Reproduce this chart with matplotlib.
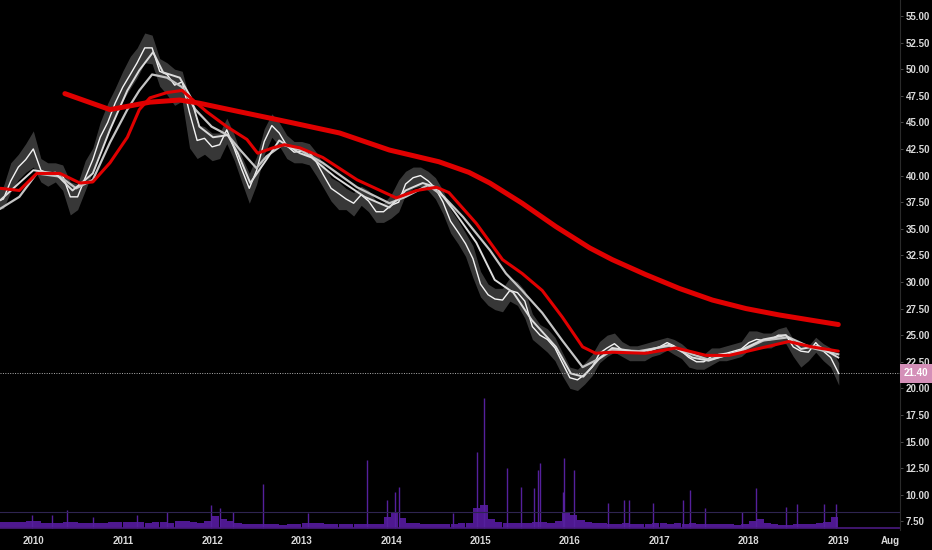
import numpy as np
import pandas as pd
import matplotlib
matplotlib.use("Agg")
import matplotlib.pyplot as plt
import matplotlib.transforms as mtrans

plt.rcParams['font.family'] = ['Liberation Sans', 'DejaVu Sans']

# monthly price (Aug 2009 .. Dec 2018, then last bar)
months = list(pd.date_range("2009-08-01", "2018-12-01", freq="MS").strftime("%Y-%m-%d")) + ["2019-01-03"]
close = [37.5, 37.8, 39.5, 40.8, 41.5,
         42.5, 40.5, 40.2, 40.3, 40.0, 38.0, 38.0, 39.8, 41.5, 43.6, 45.0, 46.8,
         48.3, 49.5, 50.6, 52.0, 52.0, 49.8, 49.5, 48.5, 48.8, 45.9, 43.3, 43.5,
         42.7, 42.9, 44.3, 42.5, 40.6, 38.8, 40.5, 43.2, 44.7, 44.0, 42.8, 42.2,
         42.3, 42.2, 41.3, 40.0, 38.8, 38.3, 37.8, 37.4, 38.2, 37.6, 36.6, 36.6,
         37.2, 37.5, 39.2, 39.8, 40.0, 39.5, 38.8, 37.5, 35.7, 34.7, 33.6, 32.2,
         29.8, 28.8, 28.4, 28.3, 29.2, 29.0, 28.2, 25.8, 25.0, 24.6, 23.8, 22.4,
         21.0, 20.8, 21.3, 22.0, 23.3, 23.8, 24.2, 23.6, 23.4, 23.3, 23.3, 23.6,
         23.9, 24.3, 24.0, 23.5, 22.9, 22.5, 22.5, 23.0, 23.2, 23.3, 23.5, 23.7,
         24.3, 24.6, 24.5, 24.6, 25.0, 25.0, 23.9, 23.5, 23.4, 24.3, 23.5, 22.9,
         21.4]
high = [38.6, 39.0, 41.2, 42.0, 43.0,
        44.2, 41.6, 41.2, 41.2, 41.0, 39.4, 39.2, 41.4, 42.6, 45.0, 46.8, 48.2,
        49.8, 51.2, 52.0, 53.4, 53.2, 51.0, 50.6, 50.0, 49.8, 47.2, 44.8, 44.6,
        44.0, 44.0, 45.4, 43.8, 41.8, 40.2, 41.8, 44.4, 45.8, 45.0, 43.8, 43.2,
        43.2, 43.0, 42.2, 41.0, 39.8, 39.4, 38.8, 38.4, 39.0, 38.6, 37.6, 37.4,
        38.2, 39.6, 40.4, 40.8, 40.8, 40.4, 39.8, 38.6, 36.8, 35.8, 34.6, 33.4,
        31.0, 29.8, 29.4, 29.4, 30.4, 30.0, 29.2, 27.0, 26.0, 25.6, 24.8, 23.4,
        22.0, 21.8, 22.4, 23.2, 24.4, 25.0, 25.2, 24.4, 24.0, 24.0, 24.2, 24.4,
        24.6, 24.8, 24.6, 24.2, 23.6, 23.2, 23.2, 23.8, 23.8, 24.0, 24.2, 24.4,
        25.4, 25.4, 25.2, 25.2, 25.6, 25.8, 24.6, 24.2, 24.0, 24.8, 24.2, 23.8,
        22.4]
low = [36.8, 36.9, 38.5, 39.6, 40.3,
       40.8, 39.4, 39.0, 39.4, 38.6, 36.3, 36.8, 38.6, 40.4, 42.4, 43.8, 45.6,
       47.0, 48.2, 49.2, 50.6, 50.5, 48.4, 47.6, 46.6, 47.0, 42.6, 41.6, 42.0,
       41.4, 41.6, 43.0, 41.4, 39.4, 37.4, 39.2, 42.0, 43.6, 42.8, 41.6, 41.2,
       41.2, 41.0, 40.0, 38.8, 37.6, 36.8, 36.8, 36.2, 37.2, 36.6, 35.6, 35.6,
       36.0, 36.6, 38.2, 38.8, 39.0, 38.6, 37.8, 36.4, 34.6, 33.6, 32.4, 30.4,
       28.6, 27.8, 27.4, 27.2, 28.2, 27.8, 26.6, 24.6, 24.0, 23.4, 22.6, 21.2,
       20.0, 19.8, 20.4, 21.2, 22.4, 23.0, 23.4, 23.0, 22.6, 22.6, 22.6, 23.0,
       23.2, 23.6, 23.2, 22.8, 22.0, 21.8, 21.8, 22.2, 22.6, 22.6, 22.8, 23.0,
       23.6, 23.8, 23.8, 23.8, 24.2, 24.2, 23.0, 22.0, 22.6, 23.4, 22.6, 22.0,
       20.3]
last_price = 21.40

# moving averages, read at points along each line
ma_fast_dates = ["2009-08-20", "2010-01-01", "2010-04-01", "2010-06-10", "2010-09-01", "2010-11-10",
                 "2011-01-20", "2011-03-10", "2011-05-05", "2011-06-15", "2011-08-22", "2011-10-05",
                 "2011-11-10", "2012-01-05", "2012-03-05", "2012-04-15", "2012-06-05", "2012-08-10",
                 "2012-10-01", "2012-12-25", "2013-02-10", "2013-05-15", "2013-09-15", "2013-12-25",
                 "2014-03-01", "2014-05-10", "2014-07-05", "2014-09-20", "2014-12-15", "2015-02-28",
                 "2015-05-15", "2015-07-30", "2015-11-05", "2016-01-05", "2016-02-25", "2016-04-30",
                 "2016-06-22", "2016-10-10", "2017-02-10", "2017-05-15", "2017-07-20", "2017-11-20",
                 "2018-03-01", "2018-06-01", "2018-08-01", "2018-10-10", "2019-01-01"]
ma_fast = [37.7, 40.5, 40.2, 38.6, 40.2, 44.3, 48.0, 49.9, 51.6, 49.7, 49.2, 47.4,
           44.6, 43.6, 43.8, 42.1, 39.3, 41.5, 43.3, 42.1, 41.7, 39.9, 38.0, 37.0,
           38.6, 39.3, 38.9, 36.5, 33.7, 30.2, 29.0, 26.4, 23.9, 21.4, 21.1, 22.8,
           23.8, 23.4, 24.1, 22.9, 22.6, 23.5, 24.6, 25.0, 23.7, 24.0, 22.9]

ma_mid_dates = ["2009-08-20", "2009-11-05", "2010-01-15", "2010-04-20", "2010-06-25", "2010-09-01",
                "2010-11-10", "2011-01-20", "2011-03-10", "2011-05-01", "2011-07-01", "2011-09-01",
                "2011-10-25", "2011-12-30", "2012-03-05", "2012-04-25", "2012-06-30", "2012-08-10",
                "2012-10-15", "2012-12-25", "2013-03-28", "2013-08-15", "2013-12-25", "2014-03-01",
                "2014-06-01", "2014-08-05", "2014-10-22", "2015-02-08", "2015-04-15", "2015-06-20",
                "2015-09-10", "2015-12-01", "2016-02-22", "2016-04-30", "2016-06-22", "2016-10-10",
                "2017-02-10", "2017-05-15", "2017-07-20", "2017-11-20", "2018-03-01", "2018-06-12",
                "2018-09-15", "2019-01-01"]
ma_mid = [36.9, 38.0, 40.2, 39.9, 38.8, 39.6, 43.1, 46.2, 48.0, 49.5, 49.2, 48.3,
          46.2, 44.6, 43.8, 42.4, 40.7, 41.8, 42.9, 42.4, 41.2, 38.9, 37.4, 38.0,
          39.1, 38.0, 36.1, 33.0, 30.8, 29.2, 27.1, 24.5, 22.0, 22.8, 23.6, 23.5,
          24.0, 23.2, 22.7, 23.4, 24.5, 24.8, 23.8, 23.2]

ma_100_dates = ["2009-08-20", "2009-11-05", "2010-01-15", "2010-04-20", "2010-07-10", "2010-09-01",
                "2010-11-10", "2011-01-20", "2011-03-10", "2011-04-22", "2011-07-01", "2011-09-01",
                "2011-10-15", "2011-12-10", "2012-03-01", "2012-05-22", "2012-07-05", "2012-09-05",
                "2012-10-22", "2012-12-25", "2013-03-28", "2013-08-15", "2014-01-22", "2014-04-15",
                "2014-07-05", "2014-08-25", "2014-12-15", "2015-04-01", "2015-06-20", "2015-09-10",
                "2015-12-01", "2016-02-22", "2016-04-15", "2016-06-22", "2016-11-05", "2017-03-10",
                "2017-07-10", "2017-10-12", "2018-01-15", "2018-06-12", "2018-09-15", "2019-01-01"]
ma_100 = [38.8, 38.6, 40.2, 40.2, 39.3, 39.4, 41.2, 43.6, 46.2, 47.3, 47.8, 48.0,
          47.1, 46.0, 44.6, 43.4, 42.1, 42.6, 42.9, 42.6, 41.7, 39.6, 37.9, 38.6,
          38.9, 38.4, 35.5, 32.1, 30.8, 29.2, 26.7, 23.9, 23.3, 23.4, 23.3, 23.8,
          23.1, 23.1, 23.6, 24.4, 23.9, 23.5]

ma_200_dates = ["2010-05-10", "2010-11-10", "2011-04-22", "2011-08-22", "2011-11-10", "2012-04-22",
                "2012-11-15", "2013-06-05", "2013-12-25", "2014-07-15", "2014-11-15", "2015-02-08",
                "2015-06-20", "2015-11-05", "2016-03-22", "2016-06-22", "2016-11-05", "2017-03-22",
                "2017-08-05", "2017-12-20", "2018-05-05", "2018-09-15", "2019-01-01"]
ma_200 = [47.7, 46.2, 46.9, 47.1, 46.8, 46.0, 45.0, 44.0, 42.4, 41.3, 40.3, 39.3,
          37.4, 35.2, 33.2, 32.1, 30.7, 29.4, 28.3, 27.5, 26.9, 26.4, 26.0]

# volume (millions): monthly body plus single-day spikes
vol_months = months[:-1]
vol_base = [1.3, 1.2, 1.3, 1.2, 1.4,
            1.5, 1.1, 1.1, 1.0, 1.3, 1.2, 1.0, 1.0, 1.0, 1.1, 1.2, 1.3,
            1.2, 1.3, 1.3, 1.1, 1.3, 1.2, 1.1, 1.5, 1.4, 1.3, 1.0, 1.5,
            2.4, 1.8, 1.4, 1.0, 0.9, 0.9, 0.8, 0.9, 0.8, 0.7, 0.8, 0.8,
            1.0, 1.1, 1.0, 0.9, 0.8, 0.8, 0.8, 0.8, 0.9, 0.8, 0.9, 2.2,
            3.0, 2.0, 1.1, 1.0, 0.9, 0.8, 0.8, 0.8, 0.9, 1.0, 1.1, 4.0,
            4.6, 1.8, 1.3, 1.1, 1.1, 1.0, 1.0, 1.2, 1.3, 1.1, 1.5, 3.2,
            2.6, 1.6, 1.2, 1.0, 1.0, 0.9, 0.9, 1.0, 0.9, 0.8, 0.9, 1.1,
            1.0, 0.9, 1.0, 0.8, 1.0, 0.9, 0.8, 0.8, 0.9, 0.8, 0.7, 0.8,
            1.5, 1.8, 1.0, 0.8, 0.7, 0.7, 0.8, 0.8, 0.9, 1.0, 1.2, 2.2]
spike_dates = ["2009-12-28", "2010-03-20", "2010-05-17", "2010-09-01", "2011-02-28", "2011-07-01",
               "2011-12-28", "2012-02-03", "2012-03-26", "2012-07-26", "2013-01-26", "2013-09-24",
               "2013-12-16", "2014-01-18", "2014-02-03", "2014-09-12", "2014-12-16", "2015-01-16",
               "2015-04-19", "2015-06-16", "2015-08-08", "2015-08-25", "2015-09-02", "2015-12-05",
               "2015-12-09", "2016-01-19", "2016-06-05", "2016-08-10", "2016-08-29", "2016-12-06",
               "2017-04-07", "2017-05-05", "2017-07-05", "2017-12-04", "2018-01-29", "2018-06-03",
               "2018-07-17", "2018-11-02", "2018-12-24"]
spike_vol = [2.6, 2.6, 3.6, 2.2, 2.6, 3.2, 4.6, 4.0, 3.2, 8.8, 3.0, 13.6,
             5.6, 7.2, 8.2, 3.0, 15.2, 26.0, 12.0, 8.2, 8.0, 11.6, 13.0, 7.2,
             14.0, 11.6, 5.0, 5.6, 5.6, 5.0, 5.6, 7.6, 4.0, 3.2, 8.0, 4.2,
             4.8, 4.8, 4.8]
vol_level = 3.3

price_ticks = np.arange(7.5, 55.01, 2.5)
year_ticks = ["2010", "2011", "2012", "2013", "2014", "2015", "2016", "2017", "2018", "2019"]

bg = "#000000"
txt = "#d8d8d8"

fig = plt.figure(figsize=(9.32, 5.5), dpi=100, facecolor=bg)
rect = [0, 20 / 550, 900 / 932, 530 / 550]
ax_vol = fig.add_axes(rect)
ax = fig.add_axes(rect, sharex=ax_vol)
ax_vol.set_facecolor(bg)
ax.patch.set_visible(False)

# volume pane
vm = pd.to_datetime(vol_months)
ax_vol.bar(vm, vol_base, width=30, align="edge", color="#4e1890", linewidth=0)
ax_vol.vlines(pd.to_datetime(spike_dates), 0, spike_vol, color="#55209c", linewidth=1.0)
ax_vol.axhline(vol_level, color="#2e2450", linewidth=0.8)
ax_vol.axhline(0, color="#4a1a80", linewidth=1.2)
ax_vol.set_ylim(-0.4, 105.6)
ax_vol.axis("off")

# price
d = pd.to_datetime(months)
ax.fill_between(d, low, high, color="#b8b8b8", alpha=0.3, linewidth=0)
ax.plot(d, close, color="#f4f4f4", linewidth=1.0)
ax.plot(pd.to_datetime(ma_mid_dates), ma_mid, color="#c4c4c4", linewidth=1.6)
ax.plot(pd.to_datetime(ma_fast_dates), ma_fast, color="#dcdcdc", linewidth=1.4)
ax.plot(pd.to_datetime(ma_100_dates), ma_100, color="#e00000", linewidth=2.2, solid_capstyle="round")
ax.plot(pd.to_datetime(ma_200_dates), ma_200, color="#e00000", linewidth=3.6, solid_capstyle="round")

ax.axhline(last_price, color="#b0b0b0", linewidth=0.7, linestyle=(0, (1, 1.5)))

ax.set_ylim(6.69, 56.5)
ax.set_xlim(pd.Timestamp("2009-08-18"), pd.Timestamp("2019-09-10"))

ax.yaxis.tick_right()
ax.set_yticks(price_ticks)
ax.set_yticklabels([f"{v:.2f}" for v in price_ticks])
xt = pd.to_datetime([y + "-01-01" for y in year_ticks] + ["2019-08-01"])
ax.set_xticks(xt)
ax.set_xticklabels(year_ticks + ["Aug"])
ax.tick_params(axis="y", colors="#555555", labelcolor=txt, labelsize=7, length=2.5, width=0.6, pad=1.5)
ax.tick_params(axis="x", colors=bg, labelcolor=txt, labelsize=7, length=0, pad=4)
for lab in ax.get_xticklabels() + ax.get_yticklabels():
    lab.set_fontweight("bold")
for s in ["top", "left", "bottom"]:
    ax.spines[s].set_visible(False)
ax.spines["right"].set_color("#2a2a2a")
ax.spines["right"].set_linewidth(0.8)

# last price tag
tr = mtrans.blended_transform_factory(ax.transAxes, ax.transData)
ax.text(1.0 + 4 / 900, last_price, f"{last_price:.2f}", transform=tr, ha="left", va="center",
        fontsize=7, fontweight="bold", color="#ffffff", zorder=5,
        bbox=dict(boxstyle="square,pad=0.45", fc="#d48fb8", ec="none"))

fig.savefig("out.png", dpi=100, facecolor=bg)
